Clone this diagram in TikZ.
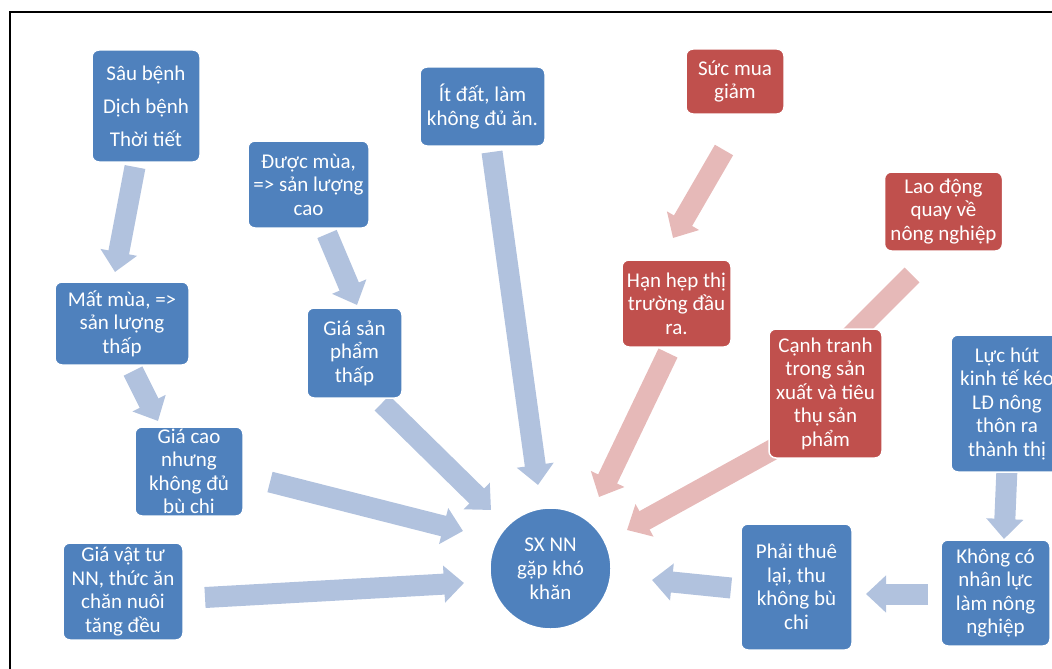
\documentclass[tikz,border=0pt]{standalone}
\usepackage{fontspec}
\setmainfont{Carlito}
\usetikzlibrary{arrows.meta}
\definecolor{bbox}{HTML}{4F81BD}
\definecolor{rbox}{HTML}{C0504D}
\definecolor{barr}{HTML}{B1C2DE}
\definecolor{rarr}{HTML}{E6B9B8}
\tikzset{
 box/.style={rounded corners=7pt, draw=white, line width=1.5pt, text=white, align=center, inner sep=0pt, font=\fontsize{21}{23.5}\selectfont},
 bluebox/.style={box, fill=bbox},
 redbox/.style={box, fill=rbox},
 blockarrow/.style={line width=21pt, -{Triangle[length=20pt,width=36pt]}},
 barrow/.style={blockarrow, draw=barr},
 rarrow/.style={blockarrow, draw=rarr},
}
\begin{document}
\begin{tikzpicture}[x=1pt,y=-1pt]
\useasboundingbox (0,0) rectangle (1052,669);
\begin{scope}
\clip (0,0) rectangle (1052,669);
\draw[line width=2pt] (9.5,690) -- (9.5,12) -- (1070,12);
% arrow end points
\coordinate (a1s) at (135,167);  \coordinate (a1e) at (115,272);
\coordinate (a2s) at (133,371);  \coordinate (a2e) at (158,421);
\coordinate (a3s) at (327,234);  \coordinate (a3e) at (357,305);
\coordinate (a4s) at (492,152);  \coordinate (a4e) at (538,485);
\coordinate (a5s) at (724,150);  \coordinate (a5e) at (673,238);
\coordinate (a6s) at (912,275);  \coordinate (a6e) at (802,385);
\coordinate (a7s) at (668,353);  \coordinate (a7e) at (599,497);
\coordinate (a8s) at (790,440);  \coordinate (a8e) at (627,530);
\coordinate (a9s) at (382,403);  \coordinate (a9e) at (491,510);
\coordinate (a10s) at (270,482); \coordinate (a10e) at (463,531);
\coordinate (a11s) at (205,597.5); \coordinate (a11e) at (464,583);
\coordinate (a12s) at (731,588); \coordinate (a12e) at (652,580);
\coordinate (a13s) at (928,594); \coordinate (a13e) at (866,594);
\coordinate (a14s) at (1007,468); \coordinate (a14e) at (1004,539);
% arrows
\draw[barrow] (a1s) -- (a1e);
\draw[barrow] (a2s) -- (a2e);
\draw[barrow] (a3s) -- (a3e);
\draw[barrow] (a4s) -- (a4e);
\draw[rarrow] (a5s) -- (a5e);
\draw[rarrow] (a6s) -- (a6e);
\draw[rarrow] (a7s) -- (a7e);
\draw[rarrow] (a8s) -- (a8e);
\draw[barrow] (a9s) -- (a9e);
\draw[barrow] (a10s) -- (a10e);
\draw[barrow] (a11s) -- (a11e);
\draw[barrow] (a12s) -- (a12e);
\draw[barrow] (a13s) -- (a13e);
\draw[barrow] (a14s) -- (a14e);
% boxes
\node[bluebox, minimum width=108pt, minimum height=112pt] (sau) at (146,106) {Sâu bệnh\\[9.5pt]Dịch bệnh\\[9.5pt]Thời tiết};
\node[bluebox, minimum width=134pt, minimum height=83pt] (matmua) at (122,323.5) {Mất mùa, =>\\sản lượng\\thấp};
\node[bluebox, minimum width=108pt, minimum height=89pt] (giacao) at (189,471.5) {Giá cao\\nhưng\\không đủ\\bù chi};
\node[bluebox, minimum width=120pt, minimum height=97pt] (giavattu) at (123,591.5) {Giá vật tư\\NN, thức ăn\\chăn nuôi\\tăng đều};
\node[bluebox, minimum width=121pt, minimum height=87pt] (duocmua) at (308.5,184.5) {Được mùa,\\=> sản lượng\\cao};
\node[bluebox, minimum width=95pt, minimum height=90pt] (giasp) at (354.5,353) {Giá sản\\phẩm\\thấp};
\node[bluebox, minimum width=125pt, minimum height=79pt] (itdat) at (482.5,106.5) {Ít đất, làm\\không đủ ăn.};
\node[redbox, minimum width=98pt, minimum height=65pt] (sucmua) at (735,81.5) {Sức mua\\giảm};
\node[redbox, minimum width=109pt, minimum height=87pt] (hanhep) at (676.5,303.5) {Hạn hẹp thị\\trường đầu\\ra.};
\node[redbox, minimum width=118pt, minimum height=79pt] (laodong) at (943.5,211.5) {Lao động\\quay về\\nông nghiệp};
\node[redbox, minimum width=113pt, minimum height=129pt] (canhtranh) at (825.5,393.5) {Cạnh tranh\\trong sản\\xuất và tiêu\\thụ sản\\phẩm};
\node[bluebox, minimum width=112pt, minimum height=137pt] (luchut) at (1007,403.5) {Lực hút\\kinh tế kéo\\LĐ nông\\thôn ra\\thành thị};
\node[bluebox, minimum width=109pt, minimum height=106pt] (khongco) at (995.5,593) {Không có\\nhân lực\\làm nông\\nghiệp};
\node[bluebox, minimum width=111pt, minimum height=126pt] (phaithue) at (796.5,587) {Phải thuê\\lại, thu\\không bù\\chi};
\node[circle, fill=bbox, draw=white, line width=1.5pt, text=white, align=center, inner sep=0pt, minimum size=121pt, font=\fontsize{21}{24}\selectfont] (sxnn) at (550.5,568.5) {SX NN\\gặp khó\\khăn};
\end{scope}
\end{tikzpicture}
\end{document}
